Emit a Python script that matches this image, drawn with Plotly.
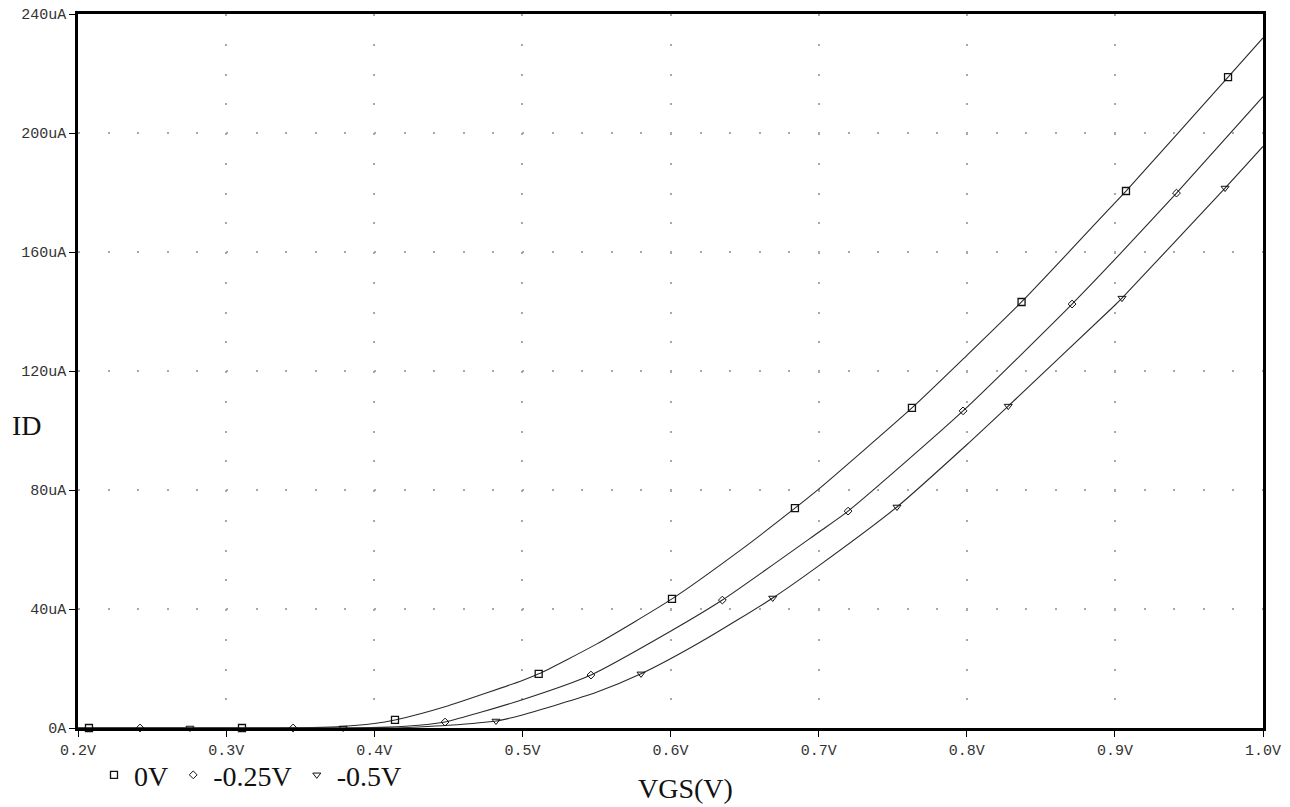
import plotly.graph_objects as go

# ---- data (VGS in V, ID in uA) ----
x_tick_vals = [0.2, 0.3, 0.4, 0.5, 0.6, 0.7, 0.8, 0.9, 1.0]
x_tick_text = ["0.2V", "0.3V", "0.4V", "0.5V", "0.6V", "0.7V", "0.8V", "0.9V", "1.0V"]
y_tick_vals = [0, 40, 80, 120, 160, 200, 240]
y_tick_text = ["0A", "40uA", "80uA", "120uA", "160uA", "200uA", "240uA"]

series_names = ["0V", "-0.25V", "-0.5V"]

# curve sample points (between markers)
vgs_0 = [0.2, 0.35, 0.375, 0.4, 0.45, 0.5, 0.55, 0.65, 0.7, 0.8, 0.9, 1.0]
id_0 = [0, 0.05, 0.4, 1.5, 7.5, 16.0, 28.2, 60.8, 80.3, 125.2, 176.5, 232.0]
vgs_25 = [0.2, 0.38, 0.41, 0.43, 0.5, 0.6, 0.7, 0.9, 1.0]
id_25 = [0, 0.0, 0.3, 0.9, 9.5, 32.5, 65.8, 157.5, 212.2]
vgs_50 = [0.2, 0.41, 0.43, 0.45, 0.5, 0.55, 0.62, 0.7, 0.8, 0.9, 1.0]
id_50 = [0, 0.0, 0.35, 0.9, 4.4, 12.0, 28.8, 54.5, 95.2, 142.1, 195.5]

# marker points
mk_vgs_0 = [0.2074, 0.3107, 0.414, 0.511, 0.601, 0.684, 0.763, 0.837, 0.9075, 0.9764]
mk_id_0 = [0, 0, 2.7, 18.2, 43.4, 73.9, 107.6, 143.2, 180.5, 218.8]
mk_vgs_25 = [0.2419, 0.3452, 0.4478, 0.5463, 0.635, 0.7199, 0.7975, 0.8711, 0.9416]
mk_id_25 = [0, 0, 2.0, 17.8, 43.0, 72.9, 106.6, 142.5, 179.8]
mk_vgs_50 = [0.2756, 0.379, 0.4822, 0.5801, 0.669, 0.7529, 0.828, 0.9048, 0.9744]
mk_id_50 = [0, 0, 2.35, 18.2, 43.7, 74.3, 108.2, 144.5, 181.5]

curves = [
    (vgs_0, id_0, mk_vgs_0, mk_id_0, "square-open", 7, 1.3),
    (vgs_25, id_25, mk_vgs_25, mk_id_25, "diamond-open", 6, 1.0),
    (vgs_50, id_50, mk_vgs_50, mk_id_50, "triangle-down-open", 7, 1.0),
]

fig = go.Figure()
line_color = "#2a2a2a"

for name, (vx, vy, mx, my, sym, sz, lw) in zip(series_names, curves):
    pts = sorted(zip(list(vx) + list(mx), list(vy) + list(my)))
    fig.add_trace(go.Scatter(
        x=[p[0] for p in pts], y=[p[1] for p in pts], mode="lines",
        line=dict(color=line_color, width=1.1, shape="spline", smoothing=0.6),
        showlegend=False, hoverinfo="skip"))
for name, (vx, vy, mx, my, sym, sz, lw) in zip(series_names, curves):
    fig.add_trace(go.Scatter(
        x=mx, y=my, mode="markers", name=name,
        marker=dict(symbol=sym, size=sz, color="#111", line=dict(width=lw, color="#111")),
        cliponaxis=False))

axis_common = dict(
    showline=True, linewidth=2.5, linecolor="black", mirror=True,
    ticks="outside", ticklen=6, tickwidth=1.3, tickcolor="black",
    showgrid=True, gridcolor="#a8a8a8", gridwidth=1.5,
    zeroline=False,
    tickfont=dict(family="Liberation Mono", size=15, color="#333"),
)

fig.update_xaxes(range=[0.2, 1.0], tickmode="array", tickvals=x_tick_vals,
                 ticktext=x_tick_text, griddash="2px,27.75px", **axis_common)
fig.update_yaxes(range=[0, 240], tickmode="array", tickvals=y_tick_vals,
                 ticktext=y_tick_text, griddash="2px,27.6px", **axis_common)

fig.update_layout(
    width=1290, height=807,
    margin=dict(l=78, r=27, t=14, b=79, autoexpand=False),
    paper_bgcolor="white", plot_bgcolor="white",
    showlegend=True,
    legend=dict(orientation="h", x=0.0135, y=-0.066, xanchor="left", yanchor="middle",
                font=dict(family="Liberation Serif", size=28, color="#111"),
                bgcolor="rgba(0,0,0,0)", itemwidth=30, tracegroupgap=0, valign="top"),
    annotations=[
        dict(text="ID", x=-0.043, y=0.423, xref="paper", yref="paper",
             xanchor="center", yanchor="middle", showarrow=False,
             font=dict(family="Liberation Serif", size=28, color="#111")),
        dict(text="VGS(V)", x=0.513, y=-0.0854, xref="paper", yref="paper",
             xanchor="center", yanchor="middle", showarrow=False,
             font=dict(family="Liberation Serif", size=28, color="#111")),
    ],
)

fig.write_html("out.html", config={"displayModeBar": False},
               post_script="document.body.style.margin='0';document.body.style.overflow='hidden';")
